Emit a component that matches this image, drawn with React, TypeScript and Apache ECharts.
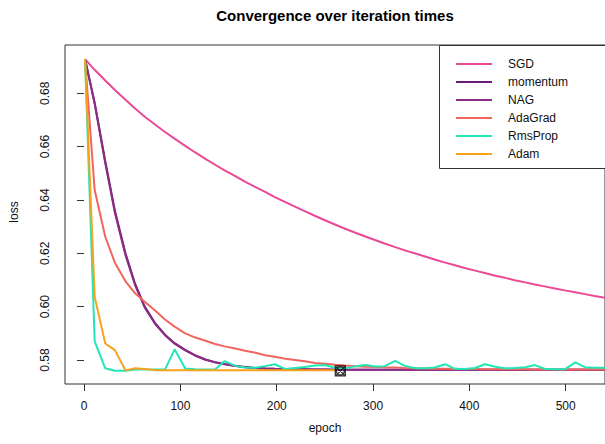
import React, { useEffect, useRef } from "react";
import * as echarts from "echarts";

const epochs = [1, 11, 22, 32, 43, 53, 63, 74, 84, 94, 105, 115, 126, 136, 146, 157, 167, 177, 188, 198, 209, 219, 229, 240, 250, 261, 271, 281, 292, 302, 312, 323, 333, 344, 354, 364, 375, 385, 395, 406, 416, 427, 437, 447, 458, 468, 478, 489, 499, 510, 520, 530, 541];

const sgd = [0.6928, 0.6888, 0.6848, 0.6812, 0.6776, 0.6743, 0.6712, 0.6682, 0.6655, 0.6630, 0.6603, 0.6579, 0.6554, 0.6532, 0.6511, 0.6489, 0.6469, 0.6450, 0.6430, 0.6411, 0.6392, 0.6375, 0.6358, 0.6340, 0.6324, 0.6307, 0.6292, 0.6278, 0.6263, 0.6250, 0.6237, 0.6223, 0.6211, 0.6199, 0.6188, 0.6177, 0.6165, 0.6155, 0.6145, 0.6135, 0.6126, 0.6116, 0.6108, 0.6099, 0.6091, 0.6083, 0.6076, 0.6068, 0.6061, 0.6054, 0.6047, 0.6040, 0.6033];

const momentum = [0.6928, 0.6765, 0.6545, 0.6360, 0.6200, 0.6085, 0.6000, 0.5937, 0.5895, 0.5863, 0.5838, 0.5818, 0.5802, 0.5792, 0.5785, 0.5778, 0.5774, 0.5770, 0.5768, 0.5767, 0.5766, 0.5765, 0.5765, 0.5764, 0.5764, 0.5763, 0.5763, 0.5763, 0.5763, 0.5763, 0.5763, 0.5763, 0.5763, 0.5763, 0.5763, 0.5763, 0.5763, 0.5763, 0.5763, 0.5763, 0.5763, 0.5763, 0.5763, 0.5763, 0.5763, 0.5763, 0.5763, 0.5763, 0.5763, 0.5763, 0.5763, 0.5763, 0.5763];

const nag = [0.6928, 0.6760, 0.6538, 0.6352, 0.6193, 0.6080, 0.5996, 0.5934, 0.5893, 0.5861, 0.5836, 0.5817, 0.5801, 0.5791, 0.5784, 0.5777, 0.5773, 0.5770, 0.5768, 0.5767, 0.5766, 0.5765, 0.5765, 0.5764, 0.5764, 0.5763, 0.5763, 0.5763, 0.5763, 0.5763, 0.5763, 0.5763, 0.5763, 0.5763, 0.5763, 0.5763, 0.5763, 0.5763, 0.5763, 0.5763, 0.5763, 0.5763, 0.5763, 0.5763, 0.5763, 0.5763, 0.5763, 0.5763, 0.5763, 0.5763, 0.5763, 0.5763, 0.5763];

const adaGrad = [0.6928, 0.6437, 0.6262, 0.6165, 0.6095, 0.6050, 0.6018, 0.5985, 0.5952, 0.5925, 0.5900, 0.5885, 0.5872, 0.5860, 0.5851, 0.5843, 0.5835, 0.5828, 0.5818, 0.5812, 0.5805, 0.5800, 0.5795, 0.5789, 0.5786, 0.5782, 0.5779, 0.5777, 0.5775, 0.5774, 0.5773, 0.5772, 0.5770, 0.5769, 0.5768, 0.5767, 0.5767, 0.5766, 0.5766, 0.5766, 0.5765, 0.5765, 0.5765, 0.5765, 0.5765, 0.5764, 0.5764, 0.5764, 0.5764, 0.5764, 0.5764, 0.5764, 0.5764];

const rmsProp = [0.6928, 0.5870, 0.5769, 0.5760, 0.5760, 0.5764, 0.5764, 0.5764, 0.5764, 0.5840, 0.5768, 0.5765, 0.5764, 0.5764, 0.5796, 0.5778, 0.5772, 0.5771, 0.5777, 0.5784, 0.5766, 0.5770, 0.5774, 0.5779, 0.5781, 0.5770, 0.5768, 0.5776, 0.5781, 0.5776, 0.5777, 0.5797, 0.5778, 0.5769, 0.5769, 0.5772, 0.5784, 0.5767, 0.5766, 0.5770, 0.5784, 0.5775, 0.5769, 0.5770, 0.5773, 0.5781, 0.5767, 0.5765, 0.5765, 0.5791, 0.5773, 0.5771, 0.5771];

const adam = [0.6928, 0.6037, 0.5862, 0.5837, 0.5761, 0.5769, 0.5766, 0.5762, 0.5762, 0.5762, 0.5762, 0.5762, 0.5762, 0.5762, 0.5762, 0.5762, 0.5762, 0.5762, 0.5762, 0.5762, 0.5762, 0.5762, 0.5762, 0.5762, 0.5762, 0.5762];

const stopPoint = [266, 0.5759];

const xTicks = [0, 100, 200, 300, 400, 500];
const yTicks = [0.58, 0.6, 0.62, 0.64, 0.66, 0.68];

const seriesNames = ["SGD", "momentum", "NAG", "AdaGrad", "RmsProp", "Adam"];
const seriesValues = [sgd, momentum, nag, adaGrad, rmsProp, adam];
const seriesColors = ["#ea4994", "#6a1b7b", "#8c2d84", "#f0665e", "#22e6b4", "#f7a21c"];

const FONT = "'Liberation Sans', Arial, sans-serif";

export default function App() {
  const ref = useRef<HTMLDivElement>(null);
  useEffect(() => {
    if (!ref.current) return;
    const chart = echarts.init(ref.current, null, { renderer: "svg" });
    const lineSeries = seriesNames.map((name, i) => ({
      name,
      type: "line",
      data: seriesValues[i].map((v, j) => [epochs[j], v]),
      showSymbol: false,
      symbol: "none",
      clip: true,
      lineStyle: { color: seriesColors[i], width: 2 },
      itemStyle: { color: seriesColors[i] },
      z: 2 + i * 0.01,
    }));
    const option: any = {
      animation: false,
      textStyle: { fontFamily: FONT },
      grid: {
        left: 65,
        top: 45,
        right: -1,
        bottom: 60,
        show: true,
        borderColor: "#333",
        borderWidth: 1,
        backgroundColor: "transparent",
      },
      xAxis: {
        type: "value",
        min: -19.8,
        max: 540.8,
        axisLine: { show: false },
        splitLine: { show: false },
        axisTick: {
          show: true,
          length: 7,
          customValues: xTicks,
          lineStyle: { color: "#333" },
        },
        axisLabel: {
          customValues: xTicks,
          margin: 16,
          fontSize: 12,
          color: "#111",
          fontFamily: FONT,
        },
      },
      yAxis: {
        type: "value",
        min: 0.571,
        max: 0.6981,
        axisLine: { show: false },
        splitLine: { show: false },
        axisTick: {
          show: true,
          length: 7,
          customValues: yTicks,
          lineStyle: { color: "#333" },
        },
        axisLabel: {
          customValues: yTicks,
          rotate: 90,
          margin: 14,
          fontSize: 12,
          color: "#111",
          fontFamily: FONT,
          formatter: (v: number) => v.toFixed(2),
        },
      },
      legend: {
        orient: "vertical",
        left: 456,
        top: 58,
        itemWidth: 36,
        itemHeight: 2,
        itemGap: 6,
        icon: "rect",
        padding: 0,
        data: seriesNames,
        textStyle: {
          fontSize: 12,
          color: "#111",
          fontFamily: FONT,
          padding: [0, 0, 0, 11],
        },
        z: 5,
      },
      graphic: [
        {
          type: "rect",
          shape: { x: 439.5, y: 45.5, width: 200, height: 123 },
          style: { fill: "#fff", stroke: "#333", lineWidth: 1 },
          z: 3,
        },
        {
          type: "text",
          x: 335,
          y: 15,
          style: {
            text: "Convergence over iteration times",
            font: `bold 15px ${FONT}`,
            fill: "#000",
            textAlign: "center",
            textVerticalAlign: "middle",
          },
        },
        {
          type: "text",
          x: 325,
          y: 428,
          style: {
            text: "epoch",
            font: `12px ${FONT}`,
            fill: "#111",
            textAlign: "center",
            textVerticalAlign: "middle",
          },
        },
        {
          type: "text",
          x: 14,
          y: 212,
          rotation: Math.PI / 2,
          style: {
            text: "loss",
            font: `12px ${FONT}`,
            fill: "#111",
            textAlign: "center",
            textVerticalAlign: "middle",
          },
        },
      ],
      series: [
        ...lineSeries,
        {
          name: "stop",
          type: "scatter",
          data: [stopPoint],
          symbol: "path://M0,0H10V10H0ZM0,0L10,10M10,0L0,10M9,5A4,4,0,1,1,1,5A4,4,0,1,1,9,5Z",
          symbolSize: 10,
          itemStyle: { color: "rgba(0,0,0,0)", borderColor: "#000", borderWidth: 1.3 },
          z: 4,
        },
      ],
    };
    chart.setOption(option);
    return () => chart.dispose();
  }, []);
  return (
    <div
      ref={ref}
      style={{ position: "fixed", left: 0, top: 0, width: 605, height: 444, background: "#fff" }}
    />
  );
}
